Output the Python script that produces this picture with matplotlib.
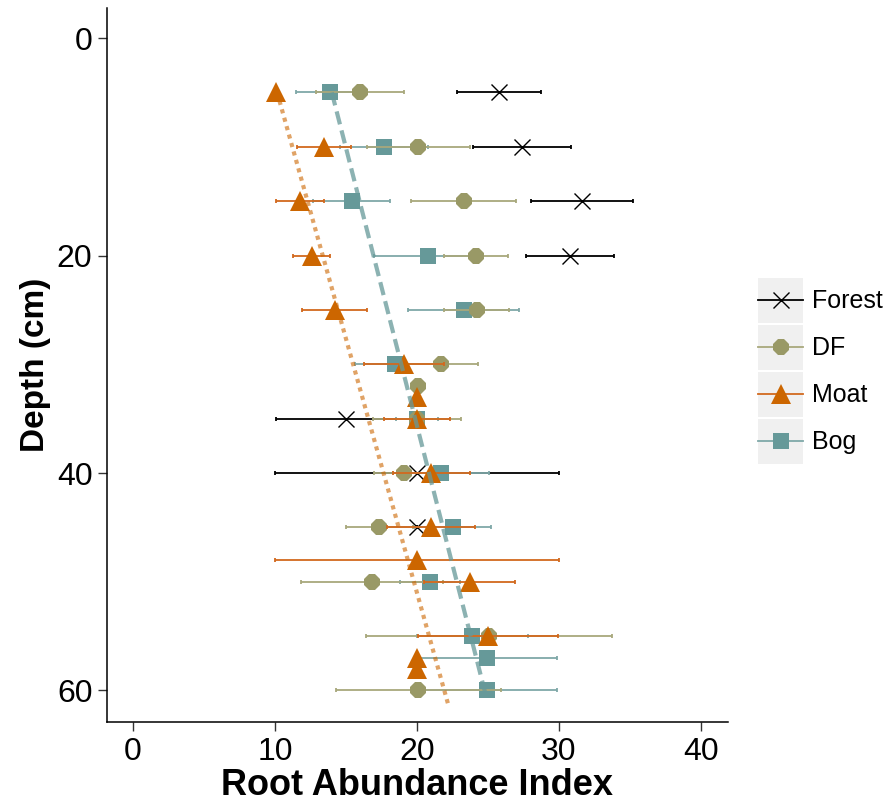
import numpy as np
import matplotlib.pyplot as plt
from matplotlib.lines import Line2D
from matplotlib.patches import Rectangle
from matplotlib.legend_handler import HandlerLine2D

plt.rcParams["font.family"] = ["Liberation Sans", "DejaVu Sans"]

# data (root abundance index vs depth in cm)
forest_depth = [5, 10, 15, 20, 35, 40, 45]
forest_val = [25.75, 27.4, 31.6, 30.8, 15.0, 20.0, 20.0]
forest_err = [2.95, 3.45, 3.6, 3.1, 4.9, 10.0, 0.0]

df_depth = [5, 10, 15, 20, 25, 30, 32, 35, 40, 45, 50, 55, 60]
df_val = [16.0, 20.1, 23.3, 24.15, 24.2, 21.7, 20.1, 20.0, 19.1, 17.35, 16.8, 25.05, 20.1]
df_err = [3.1, 3.6, 3.7, 2.25, 2.3, 2.6, 0.0, 3.1, 2.1, 2.35, 5.0, 8.65, 5.8]

moat_depth = [5, 10, 15, 20, 25, 30, 33, 35, 40, 45, 48, 50, 55, 57, 58]
moat_val = [10.07, 13.45, 11.76, 12.6, 14.2, 19.1, 20.0, 20.0, 21.0, 21.0, 20.0, 23.7, 25.0, 20.0, 20.0]
moat_err = [0.0, 1.9, 1.7, 1.3, 2.3, 2.8, 0.0, 2.35, 2.7, 3.1, 10.0, 3.2, 4.9, 0.0, 0.0]

bog_depth = [5, 10, 15, 20, 25, 30, 35, 40, 45, 50, 55, 57, 60]
bog_val = [13.87, 17.7, 15.4, 20.8, 23.3, 18.45, 20.0, 21.7, 22.5, 20.9, 23.9, 24.95, 24.95]
bog_err = [2.37, 3.1, 2.7, 3.8, 3.9, 2.85, 1.5, 3.4, 2.7, 2.1, 3.9, 4.9, 4.9]

# fitted trend lines (end points)
moat_trend_depth = [5, 61.3]
moat_trend_val = [10.15, 22.2]
bog_trend_depth = [5, 60.2]
bog_trend_val = [14.0, 24.8]

labels = ["Forest", "DF", "Moat", "Bog"]
colors = ["black", "#999966", "#cc6600", "#669999"]
bar_colors = ["black", "#a8a87c", "#d2691e", "#7fa8a8"]
markers = ["x", "8", "^", "s"]
msizes = [12, 13, 14, 12]

series = [
    (forest_depth, forest_val, forest_err),
    (df_depth, df_val, df_err),
    (moat_depth, moat_val, moat_err),
    (bog_depth, bog_val, bog_err),
]
zorders = [2, 4, 5, 3]

fig = plt.figure(figsize=(8.94, 8.06), dpi=100)
ax = fig.add_axes([0.1197, 0.1042, 0.6946, 0.8858])

for (d, v, e), c, bc, m, ms, z in zip(series, colors, bar_colors, markers, msizes, zorders):
    ax.errorbar(v, d, xerr=e, fmt="none", ecolor=bc, elinewidth=1.3,
                capsize=1.5, capthick=1.3, zorder=z)
    if m == "x":
        ax.plot(v, d, linestyle="none", marker=m, markersize=ms, color=c,
                markeredgewidth=1.0, zorder=z)
    else:
        ax.plot(v, d, linestyle="none", marker=m, markersize=ms, color=c,
                markeredgewidth=0, zorder=z)

ax.plot(moat_trend_val, moat_trend_depth, color="#cc6600", alpha=0.6, lw=3,
        linestyle=(0, (1, 1.1)), dash_capstyle="butt", zorder=6)
ax.plot(bog_trend_val, bog_trend_depth, color="#669999", alpha=0.75, lw=3,
        linestyle=(0, (3.2, 1.5)), dash_capstyle="butt", zorder=6)

ax.set_xlim(-1.83, 41.9)
ax.set_ylim(62.9, -2.76)
ax.set_xticks([0, 10, 20, 30, 40])
ax.set_yticks([0, 20, 40, 60])
ax.spines["top"].set_visible(False)
ax.spines["right"].set_visible(False)
for s in ["left", "bottom"]:
    ax.spines[s].set_linewidth(1.1)
ax.tick_params(labelsize=23, length=6.5, width=1.0, color="#333333", pad=4)
ax.set_xlabel("Root Abundance Index", fontsize=26, fontweight="bold", labelpad=1)
ax.set_ylabel("Depth (cm)", fontsize=24, fontweight="bold", labelpad=4)


class KeyBox(HandlerLine2D):
    # grey key background like ggplot, with the key centred in it
    def create_artists(self, legend, orig_handle, xdescent, ydescent,
                       width, height, fontsize, trans):
        box = Rectangle((-xdescent, -ydescent), width, height,
                        facecolor="#f0f0f0", edgecolor="none", transform=trans)
        arts = super().create_artists(legend, orig_handle, xdescent, ydescent,
                                      width, height, fontsize, trans)
        mid = height / 2 - ydescent
        for a in arts:
            a.set_ydata(np.full(len(a.get_xdata()), mid))
        return [box] + arts


handles = []
for c, bc, m, ms in zip(colors, bar_colors, markers, msizes):
    h = Line2D([], [], color=bc, lw=1.3, marker=m, markersize=ms,
               markerfacecolor=c, markeredgecolor=c,
               markeredgewidth=1.0 if m == "x" else 0)
    handles.append(h)

fig.legend(handles, labels, loc="center left", bbox_to_anchor=(0.848, 0.540),
           frameon=False, fontsize=18, numpoints=1, handlelength=1.8,
           handleheight=2.39, labelspacing=0.08, handletextpad=0.35,
           borderpad=0, borderaxespad=0,
           handler_map={Line2D: KeyBox()})

fig.savefig("out.png", dpi=100)
